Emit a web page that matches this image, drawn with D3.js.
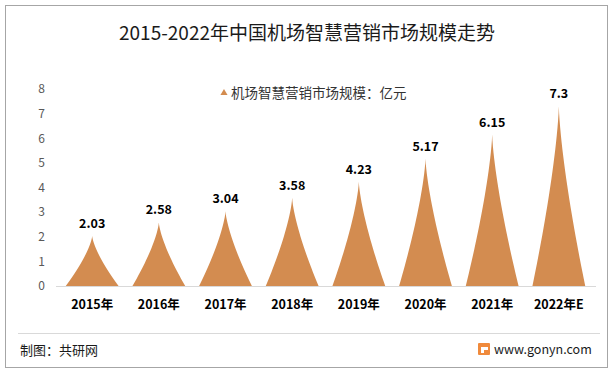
<!DOCTYPE html>
<html>
<head>
<meta charset="utf-8">
<script src="https://cdn.jsdelivr.net/npm/d3@7"></script>
<style>
  body { margin: 0; background: #fff; }
  text { font-family: "Microsoft YaHei", "Noto Sans CJK SC", sans-serif; }
</style>
</head>
<body>
<div id="vis" style="width:615px;height:372px"></div>
<script>
var years = ['2015年', '2016年', '2017年', '2018年', '2019年', '2020年', '2021年', '2022年E'];
var values = [2.03, 2.58, 3.04, 3.58, 4.23, 5.17, 6.15, 7.3];
var yTicks = [0, 1, 2, 3, 4, 5, 6, 7, 8];
var title = '2015-2022年中国机场智慧营销市场规模走势';
var legendLabel = '机场智慧营销市场规模：亿元';

var width = 615, height = 372;
var margin = { top: 89, bottom: 86, left: 55.5, right: 19.5 };

var svg = d3.select('#vis')
  .append('svg')
  .attr('width', width)
  .attr('height', height);

// outer frame
svg.append('rect')
  .attr('x', 5.5).attr('y', 5.5)
  .attr('width', 602).attr('height', 362)
  .attr('fill', '#fff')
  .attr('stroke', '#a6a6a6');

svg.append('text')
  .attr('x', 307).attr('y', 40)
  .attr('text-anchor', 'middle')
  .attr('font-size', 19)
  .attr('fill', '#1a1a1a')
  .text(title);

var x_scale = d3.scaleBand()
  .domain(years)
  .range([margin.left, width - margin.right])
  .padding(0.1);

var y_scale = d3.scaleLinear()
  .domain([0, 8])
  .range([height - margin.bottom, margin.top]);

var base = y_scale(0);

// y axis labels only
var y_axis = d3.axisLeft(y_scale).tickValues(yTicks).tickSize(0).tickPadding(0);
var gy = svg.append('g')
  .attr('transform', 'translate(45,0)')
  .call(y_axis);
gy.select('.domain').remove();
gy.selectAll('text')
  .attr('font-size', 12)
  .attr('fill', '#595959');

// x axis
var x_axis = d3.axisBottom(x_scale).tickSize(0).tickPadding(14);
var gx = svg.append('g')
  .attr('transform', 'translate(0,' + base + ')')
  .call(x_axis);
gx.select('.domain').attr('stroke', '#d9d9d9');
gx.selectAll('text')
  .attr('font-size', 12.5)
  .attr('font-weight', 'bold')
  .attr('fill', '#000');

// spike shapes: half width shrinks as (1-h)^1.4 going up
var steps = d3.range(0, 1.0001, 0.04);
var spikeLine = d3.line();
function spike(d, i) {
  var cx = x_scale(years[i]) + x_scale.bandwidth() / 2;
  var hw = x_scale.bandwidth() * 0.44;
  var top = y_scale(d);
  var left = steps.map(function(h) {
    return [cx - hw * Math.pow(1 - h, 1.4), base - (base - top) * h];
  });
  var right = steps.slice().reverse().map(function(h) {
    return [cx + hw * Math.pow(1 - h, 1.4), base - (base - top) * h];
  });
  return spikeLine(left.concat(right)) + 'Z';
}

svg.selectAll('.bar')
  .data(values)
  .enter()
  .append('path')
  .attr('class', 'bar')
  .attr('d', spike)
  .attr('fill', '#d38c50');

svg.selectAll('.label')
  .data(values)
  .enter()
  .append('text')
  .attr('class', 'label')
  .attr('x', function(d, i) { return x_scale(years[i]) + x_scale.bandwidth() / 2; })
  .attr('y', function(d) { return y_scale(d) - 8; })
  .attr('text-anchor', 'middle')
  .attr('font-size', 12.5)
  .attr('font-weight', 'bold')
  .attr('fill', '#000')
  .text(function(d) { return d; });

// legend
svg.append('path')
  .attr('d', d3.symbol().type(d3.symbolTriangle).size(22)())
  .attr('transform', 'translate(224,93)')
  .attr('fill', '#d38c50');
svg.append('text')
  .attr('x', 231).attr('y', 97.5)
  .attr('font-size', 13.5)
  .attr('fill', '#333')
  .text(legendLabel);

// footer
svg.append('line')
  .attr('x1', 18).attr('x2', 600)
  .attr('y1', 333.5).attr('y2', 333.5)
  .attr('stroke', '#d9d9d9');
svg.append('text')
  .attr('x', 20).attr('y', 355)
  .attr('font-size', 13)
  .attr('fill', '#1a1a1a')
  .text('制图：共研网');

var logo = svg.append('g').attr('transform', 'translate(478,343)');
logo.append('rect')
  .attr('width', 12).attr('height', 12)
  .attr('rx', 1)
  .attr('fill', '#f08a3c');
logo.append('rect')
  .attr('x', 3).attr('y', 4).attr('width', 7).attr('height', 3)
  .attr('fill', '#fff');
logo.append('rect')
  .attr('x', 3).attr('y', 4).attr('width', 3).attr('height', 6)
  .attr('fill', '#fff');
svg.append('text')
  .attr('x', 494).attr('y', 354)
  .attr('font-size', 12.5)
  .attr('fill', '#1a1a1a')
  .text('www.gonyn.com');
</script>
</body>
</html>
